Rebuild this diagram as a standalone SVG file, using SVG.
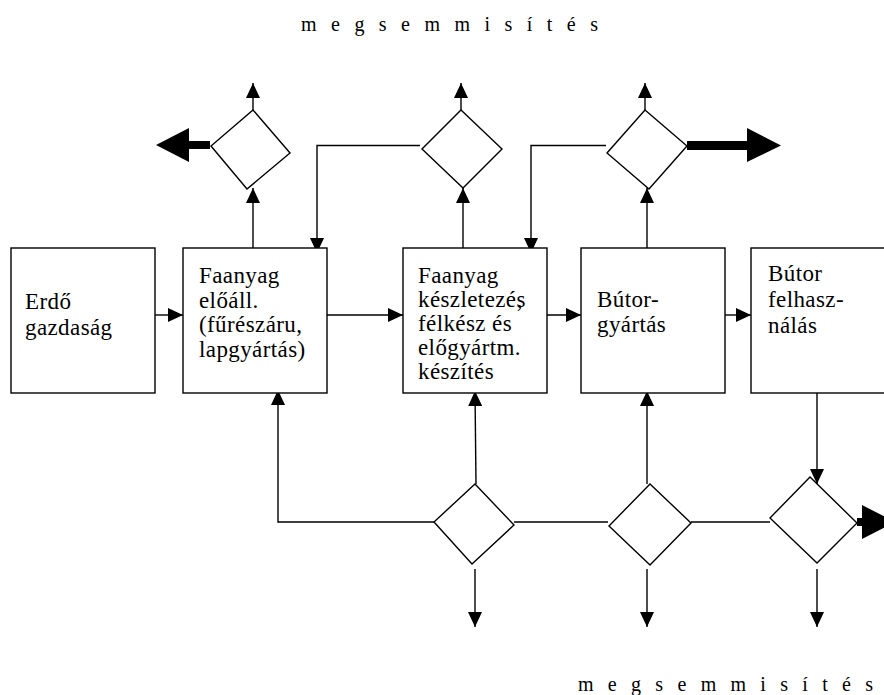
<svg xmlns="http://www.w3.org/2000/svg" width="884" height="695" viewBox="0 0 884 695">
<style>
.box{fill:#fff;stroke:#000;stroke-width:1.4}
.dia{fill:#fff;stroke:#000;stroke-width:1.4}
.ln{fill:none;stroke:#000;stroke-width:1.4}
.arr{fill:none;stroke:#000;stroke-width:1.4;marker-end:url(#ah)}
.thick{fill:#000;stroke:none}
.t{font-family:"Liberation Serif","Times New Roman",serif;font-size:23px;fill:#000;letter-spacing:0.4px}
.h{font-family:"Liberation Serif","Times New Roman",serif;fill:#000}
</style>
<defs>
<marker id="ah" markerUnits="userSpaceOnUse" viewBox="0 0 15 14" refX="15" refY="7" markerWidth="15" markerHeight="14" orient="auto">
<path d="M0,0 L15,7 L0,14 z" fill="#000"/>
</marker>
</defs>
<rect width="884" height="695" fill="#fff"/>
<text class="h" x="301" y="31" font-size="20" textLength="297" lengthAdjust="spacing">m e g s e m m i s í t é s</text>
<text class="h" x="578" y="691" font-size="20" textLength="295" lengthAdjust="spacing">m e g s e m m i s í t é s</text>

<g id="connectors">
<line class="arr" x1="155" y1="315" x2="183" y2="315"/>
<line class="arr" x1="327" y1="315" x2="403" y2="315"/>
<line class="arr" x1="547" y1="315" x2="581" y2="315"/>
<line class="arr" x1="725" y1="315" x2="751" y2="315"/>
<line class="arr" x1="253" y1="248" x2="253" y2="188"/>
<line class="arr" x1="463" y1="248" x2="463" y2="188"/>
<line class="arr" x1="647" y1="248" x2="647" y2="188"/>
<line class="arr" x1="253" y1="110" x2="253" y2="83"/>
<line class="arr" x1="461" y1="110" x2="461" y2="83"/>
<line class="arr" x1="645" y1="110" x2="645" y2="83"/>
<polyline class="arr" points="420,145.5 317,145.5 317,253"/>
<polyline class="arr" points="606,145.5 531,145.5 531,253"/>
<polygon class="thick" points="210,141 189,141 189,128 156,145 189,162 189,149 210,149"/>
<polygon class="thick" points="687,141 747,141 747,128 781,145.5 747,162 747,150 687,150"/>
<polyline class="arr" points="434,522 278,522 278,390"/>
<line class="arr" x1="476" y1="484" x2="475" y2="391"/>
<line class="arr" x1="647" y1="484" x2="647" y2="391"/>
<line class="arr" x1="817" y1="393" x2="817" y2="484"/>
<line class="ln" x1="514" y1="522" x2="608" y2="522"/>
<line class="ln" x1="691" y1="522" x2="770" y2="522"/>
<line class="arr" x1="475" y1="569" x2="475" y2="627"/>
<line class="arr" x1="647" y1="569" x2="647" y2="627"/>
<line class="arr" x1="817" y1="569" x2="817" y2="627"/>
<polygon class="thick" points="857,518 862,518 862,505 895,522 862,539 862,526 857,526"/>
</g>

<g id="d1"><polygon class="dia" points="253,110 290,153 247,189 211,146"/></g>
<g id="d2"><polygon class="dia" points="461,110 502,149 463,188 422,149"/></g>
<g id="d3"><polygon class="dia" points="645,110 687,146 649,189 607,153"/></g>
<g id="d4"><polygon class="dia" points="475,484 514,525 472,564 434,522"/></g>
<g id="d5"><polygon class="dia" points="650,484 691,523 650,565 609,526"/></g>
<g id="d6"><polygon class="dia" points="810,477 857,523 817,563 770,518"/></g>

<g id="erdo">
<rect class="box" x="11" y="248" width="144" height="145"/>
<text class="t" x="25" y="309">Erdő</text>
<text class="t" x="25" y="335">gazdaság</text>
</g>
<g id="faanyag-eloall">
<rect class="box" x="183" y="248" width="144" height="145"/>
<text class="t" x="199" y="283">Faanyag</text>
<text class="t" x="199" y="308">előáll.</text>
<text class="t" x="199" y="332">(fűrészáru,</text>
<text class="t" x="199" y="357">lapgyártás)</text>
</g>
<g id="faanyag-keszlet">
<rect class="box" x="403" y="248" width="144" height="145"/>
<text class="t" x="418" y="283">Faanyag</text>
<text class="t" x="418" y="307">készletezés<tspan dx="-9">,</tspan></text>
<text class="t" x="418" y="331">félkész és</text>
<text class="t" x="418" y="355">előgyártm.</text>
<text class="t" x="418" y="379">készítés</text>
</g>
<g id="butorgyartas">
<rect class="box" x="581" y="248" width="144" height="145"/>
<text class="t" x="597" y="307">Bútor-</text>
<text class="t" x="597" y="332">gyártás</text>
</g>
<g id="butorfelhasznalas">
<rect class="box" x="751" y="248" width="144" height="145"/>
<text class="t" x="768" y="281">Bútor</text>
<text class="t" x="768" y="307">felhasz-</text>
<text class="t" x="768" y="333">nálás</text>
</g>
</svg>
